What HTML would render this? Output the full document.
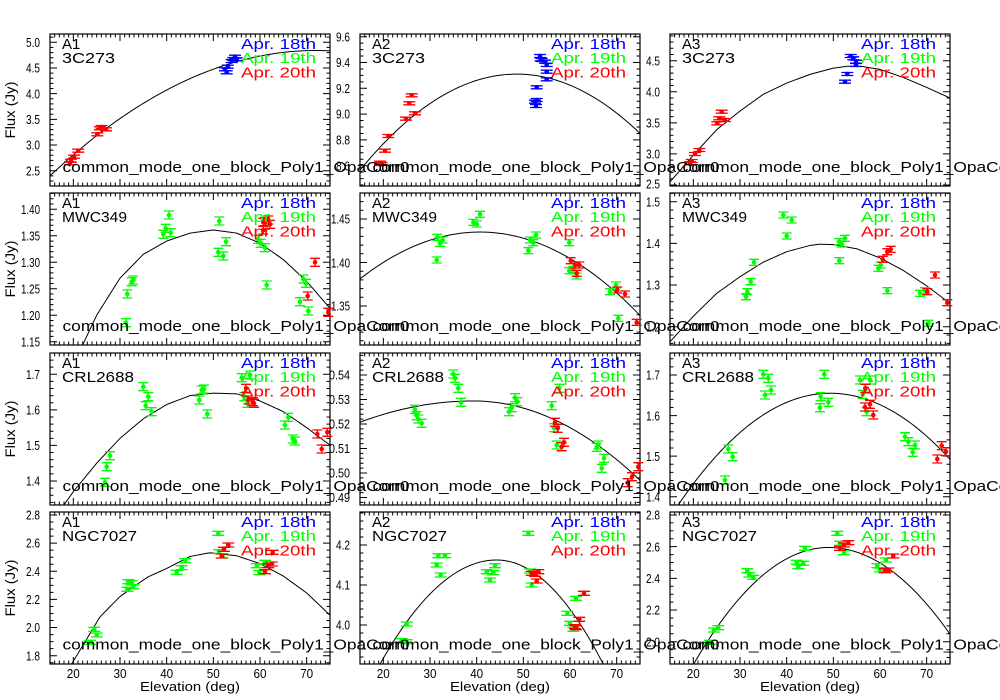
<!DOCTYPE html>
<html><head><meta charset="utf-8"><style>
html,body{margin:0;padding:0;background:#fff;width:1000px;height:700px;overflow:hidden;}
svg{display:block;}
text{font-family:"Liberation Sans",sans-serif;fill:#000;}
.t{font-size:13px;text-anchor:end;}
.xt{font-size:13px;text-anchor:middle;}
.n{font-size:15px;}
.lg{font-size:15px;}
.cm{font-size:15px;}
</style></head><body>
<svg id="s" width="1000" height="700" viewBox="0 0 1000 700" xmlns="http://www.w3.org/2000/svg">
<rect width="1000" height="700" fill="#fff"/>
<g id="shapes"></g>
<g id="txt">
<text class="n" x="62" y="49">A1</text><text class="n" x="62" y="63" textLength="53" lengthAdjust="spacingAndGlyphs">3C273</text>
<text class="n" x="372" y="49">A2</text><text class="n" x="372" y="63" textLength="53" lengthAdjust="spacingAndGlyphs">3C273</text>
<text class="n" x="682" y="49">A3</text><text class="n" x="682" y="63" textLength="53" lengthAdjust="spacingAndGlyphs">3C273</text>
<text class="n" x="62" y="208">A1</text><text class="n" x="62" y="222" textLength="65" lengthAdjust="spacingAndGlyphs">MWC349</text>
<text class="n" x="372" y="208">A2</text><text class="n" x="372" y="222" textLength="65" lengthAdjust="spacingAndGlyphs">MWC349</text>
<text class="n" x="682" y="208">A3</text><text class="n" x="682" y="222" textLength="65" lengthAdjust="spacingAndGlyphs">MWC349</text>
<text class="n" x="62" y="368">A1</text><text class="n" x="62" y="382" textLength="72" lengthAdjust="spacingAndGlyphs">CRL2688</text>
<text class="n" x="372" y="368">A2</text><text class="n" x="372" y="382" textLength="72" lengthAdjust="spacingAndGlyphs">CRL2688</text>
<text class="n" x="682" y="368">A3</text><text class="n" x="682" y="382" textLength="72" lengthAdjust="spacingAndGlyphs">CRL2688</text>
<text class="n" x="62" y="527">A1</text><text class="n" x="62" y="541" textLength="75" lengthAdjust="spacingAndGlyphs">NGC7027</text>
<text class="n" x="372" y="527">A2</text><text class="n" x="372" y="541" textLength="75" lengthAdjust="spacingAndGlyphs">NGC7027</text>
<text class="n" x="682" y="527">A3</text><text class="n" x="682" y="541" textLength="75" lengthAdjust="spacingAndGlyphs">NGC7027</text>

<g class="lg">
<text x="241" y="49" style="fill:#0000ff" textLength="75" lengthAdjust="spacingAndGlyphs">Apr. 18th</text>
<text x="241" y="63" style="fill:#00ff00" textLength="75" lengthAdjust="spacingAndGlyphs">Apr. 19th</text>
<text x="241" y="77.5" style="fill:#ff0000" textLength="75" lengthAdjust="spacingAndGlyphs">Apr. 20th</text>
<text x="551" y="49" style="fill:#0000ff" textLength="75" lengthAdjust="spacingAndGlyphs">Apr. 18th</text>
<text x="551" y="63" style="fill:#00ff00" textLength="75" lengthAdjust="spacingAndGlyphs">Apr. 19th</text>
<text x="551" y="77.5" style="fill:#ff0000" textLength="75" lengthAdjust="spacingAndGlyphs">Apr. 20th</text>
<text x="861" y="49" style="fill:#0000ff" textLength="75" lengthAdjust="spacingAndGlyphs">Apr. 18th</text>
<text x="861" y="63" style="fill:#00ff00" textLength="75" lengthAdjust="spacingAndGlyphs">Apr. 19th</text>
<text x="861" y="77.5" style="fill:#ff0000" textLength="75" lengthAdjust="spacingAndGlyphs">Apr. 20th</text>

<text x="241" y="208" style="fill:#0000ff" textLength="75" lengthAdjust="spacingAndGlyphs">Apr. 18th</text>
<text x="241" y="222" style="fill:#00ff00" textLength="75" lengthAdjust="spacingAndGlyphs">Apr. 19th</text>
<text x="241" y="236.5" style="fill:#ff0000" textLength="75" lengthAdjust="spacingAndGlyphs">Apr. 20th</text>
<text x="551" y="208" style="fill:#0000ff" textLength="75" lengthAdjust="spacingAndGlyphs">Apr. 18th</text>
<text x="551" y="222" style="fill:#00ff00" textLength="75" lengthAdjust="spacingAndGlyphs">Apr. 19th</text>
<text x="551" y="236.5" style="fill:#ff0000" textLength="75" lengthAdjust="spacingAndGlyphs">Apr. 20th</text>
<text x="861" y="208" style="fill:#0000ff" textLength="75" lengthAdjust="spacingAndGlyphs">Apr. 18th</text>
<text x="861" y="222" style="fill:#00ff00" textLength="75" lengthAdjust="spacingAndGlyphs">Apr. 19th</text>
<text x="861" y="236.5" style="fill:#ff0000" textLength="75" lengthAdjust="spacingAndGlyphs">Apr. 20th</text>

<text x="241" y="368" style="fill:#0000ff" textLength="75" lengthAdjust="spacingAndGlyphs">Apr. 18th</text>
<text x="241" y="382" style="fill:#00ff00" textLength="75" lengthAdjust="spacingAndGlyphs">Apr. 19th</text>
<text x="241" y="396.5" style="fill:#ff0000" textLength="75" lengthAdjust="spacingAndGlyphs">Apr. 20th</text>
<text x="551" y="368" style="fill:#0000ff" textLength="75" lengthAdjust="spacingAndGlyphs">Apr. 18th</text>
<text x="551" y="382" style="fill:#00ff00" textLength="75" lengthAdjust="spacingAndGlyphs">Apr. 19th</text>
<text x="551" y="396.5" style="fill:#ff0000" textLength="75" lengthAdjust="spacingAndGlyphs">Apr. 20th</text>
<text x="861" y="368" style="fill:#0000ff" textLength="75" lengthAdjust="spacingAndGlyphs">Apr. 18th</text>
<text x="861" y="382" style="fill:#00ff00" textLength="75" lengthAdjust="spacingAndGlyphs">Apr. 19th</text>
<text x="861" y="396.5" style="fill:#ff0000" textLength="75" lengthAdjust="spacingAndGlyphs">Apr. 20th</text>

<text x="241" y="527" style="fill:#0000ff" textLength="75" lengthAdjust="spacingAndGlyphs">Apr. 18th</text>
<text x="241" y="541" style="fill:#00ff00" textLength="75" lengthAdjust="spacingAndGlyphs">Apr. 19th</text>
<text x="241" y="555.5" style="fill:#ff0000" textLength="75" lengthAdjust="spacingAndGlyphs">Apr. 20th</text>
<text x="551" y="527" style="fill:#0000ff" textLength="75" lengthAdjust="spacingAndGlyphs">Apr. 18th</text>
<text x="551" y="541" style="fill:#00ff00" textLength="75" lengthAdjust="spacingAndGlyphs">Apr. 19th</text>
<text x="551" y="555.5" style="fill:#ff0000" textLength="75" lengthAdjust="spacingAndGlyphs">Apr. 20th</text>
<text x="861" y="527" style="fill:#0000ff" textLength="75" lengthAdjust="spacingAndGlyphs">Apr. 18th</text>
<text x="861" y="541" style="fill:#00ff00" textLength="75" lengthAdjust="spacingAndGlyphs">Apr. 19th</text>
<text x="861" y="555.5" style="fill:#ff0000" textLength="75" lengthAdjust="spacingAndGlyphs">Apr. 20th</text>
</g>

<g class="cm">
<text x="62.5" y="172" textLength="347" lengthAdjust="spacingAndGlyphs">common_mode_one_block_Poly1_OpaCorr0</text>
<text x="372.5" y="172" textLength="347" lengthAdjust="spacingAndGlyphs">common_mode_one_block_Poly1_OpaCorr0</text>
<text x="682.5" y="172" textLength="347" lengthAdjust="spacingAndGlyphs">common_mode_one_block_Poly1_OpaCorr0</text>
<text x="62.5" y="331" textLength="347" lengthAdjust="spacingAndGlyphs">common_mode_one_block_Poly1_OpaCorr0</text>
<text x="372.5" y="331" textLength="347" lengthAdjust="spacingAndGlyphs">common_mode_one_block_Poly1_OpaCorr0</text>
<text x="682.5" y="331" textLength="347" lengthAdjust="spacingAndGlyphs">common_mode_one_block_Poly1_OpaCorr0</text>
<text x="62.5" y="491" textLength="347" lengthAdjust="spacingAndGlyphs">common_mode_one_block_Poly1_OpaCorr0</text>
<text x="372.5" y="491" textLength="347" lengthAdjust="spacingAndGlyphs">common_mode_one_block_Poly1_OpaCorr0</text>
<text x="682.5" y="491" textLength="347" lengthAdjust="spacingAndGlyphs">common_mode_one_block_Poly1_OpaCorr0</text>
<text x="62.5" y="649.5" textLength="347" lengthAdjust="spacingAndGlyphs">common_mode_one_block_Poly1_OpaCorr0</text>
<text x="372.5" y="649.5" textLength="347" lengthAdjust="spacingAndGlyphs">common_mode_one_block_Poly1_OpaCorr0</text>
<text x="682.5" y="649.5" textLength="347" lengthAdjust="spacingAndGlyphs">common_mode_one_block_Poly1_OpaCorr0</text>
</g>

<g class="t">
<text x="40" y="47" textLength="14" lengthAdjust="spacingAndGlyphs">5.0</text>
<text x="40" y="72.7" textLength="14" lengthAdjust="spacingAndGlyphs">4.5</text>
<text x="40" y="98.4" textLength="14" lengthAdjust="spacingAndGlyphs">4.0</text>
<text x="40" y="124.1" textLength="14" lengthAdjust="spacingAndGlyphs">3.5</text>
<text x="40" y="149.7" textLength="14" lengthAdjust="spacingAndGlyphs">3.0</text>
<text x="40" y="175.4" textLength="14" lengthAdjust="spacingAndGlyphs">2.5</text>
<text x="350" y="41.4" textLength="14" lengthAdjust="spacingAndGlyphs">9.6</text>
<text x="350" y="67.2" textLength="14" lengthAdjust="spacingAndGlyphs">9.4</text>
<text x="350" y="93" textLength="14" lengthAdjust="spacingAndGlyphs">9.2</text>
<text x="350" y="118.7" textLength="14" lengthAdjust="spacingAndGlyphs">9.0</text>
<text x="350" y="144.7" textLength="14" lengthAdjust="spacingAndGlyphs">8.8</text>
<text x="350" y="170.4" textLength="14" lengthAdjust="spacingAndGlyphs">8.6</text>
<text x="660" y="65.4" textLength="14" lengthAdjust="spacingAndGlyphs">4.5</text>
<text x="660" y="96.5" textLength="14" lengthAdjust="spacingAndGlyphs">4.0</text>
<text x="660" y="127.6" textLength="14" lengthAdjust="spacingAndGlyphs">3.5</text>
<text x="660" y="158.7" textLength="14" lengthAdjust="spacingAndGlyphs">3.0</text>
<text x="660" y="188.5" textLength="14" lengthAdjust="spacingAndGlyphs">2.5</text>

<text x="40" y="214" textLength="19" lengthAdjust="spacingAndGlyphs">1.40</text>
<text x="40" y="240.5" textLength="19" lengthAdjust="spacingAndGlyphs">1.35</text>
<text x="40" y="267" textLength="19" lengthAdjust="spacingAndGlyphs">1.30</text>
<text x="40" y="293.5" textLength="19" lengthAdjust="spacingAndGlyphs">1.25</text>
<text x="40" y="320" textLength="19" lengthAdjust="spacingAndGlyphs">1.20</text>
<text x="40" y="346.4" textLength="19" lengthAdjust="spacingAndGlyphs">1.15</text>
<text x="350" y="223.7" textLength="19" lengthAdjust="spacingAndGlyphs">1.45</text>
<text x="350" y="267.4" textLength="19" lengthAdjust="spacingAndGlyphs">1.40</text>
<text x="350" y="310.7" textLength="19" lengthAdjust="spacingAndGlyphs">1.35</text>
<text x="660" y="206.4" textLength="14" lengthAdjust="spacingAndGlyphs">1.5</text>
<text x="660" y="248" textLength="14" lengthAdjust="spacingAndGlyphs">1.4</text>
<text x="660" y="289.7" textLength="14" lengthAdjust="spacingAndGlyphs">1.3</text>
<text x="660" y="331.4" textLength="14" lengthAdjust="spacingAndGlyphs">1.2</text>

<text x="40" y="379" textLength="14" lengthAdjust="spacingAndGlyphs">1.7</text>
<text x="40" y="414.6" textLength="14" lengthAdjust="spacingAndGlyphs">1.6</text>
<text x="40" y="450.2" textLength="14" lengthAdjust="spacingAndGlyphs">1.5</text>
<text x="40" y="485.7" textLength="14" lengthAdjust="spacingAndGlyphs">1.4</text>
<text x="350" y="379.7" textLength="21" lengthAdjust="spacingAndGlyphs">0.54</text>
<text x="350" y="404.2" textLength="21" lengthAdjust="spacingAndGlyphs">0.53</text>
<text x="350" y="428.7" textLength="21" lengthAdjust="spacingAndGlyphs">0.52</text>
<text x="350" y="453.2" textLength="21" lengthAdjust="spacingAndGlyphs">0.51</text>
<text x="350" y="477.7" textLength="21" lengthAdjust="spacingAndGlyphs">0.50</text>
<text x="350" y="502.2" textLength="21" lengthAdjust="spacingAndGlyphs">0.49</text>
<text x="660" y="379.7" textLength="14" lengthAdjust="spacingAndGlyphs">1.7</text>
<text x="660" y="420.3" textLength="14" lengthAdjust="spacingAndGlyphs">1.6</text>
<text x="660" y="460.9" textLength="14" lengthAdjust="spacingAndGlyphs">1.5</text>
<text x="660" y="501.4" textLength="14" lengthAdjust="spacingAndGlyphs">1.4</text>

<text x="40" y="519.7" textLength="14" lengthAdjust="spacingAndGlyphs">2.8</text>
<text x="40" y="547.7" textLength="14" lengthAdjust="spacingAndGlyphs">2.6</text>
<text x="40" y="575.9" textLength="14" lengthAdjust="spacingAndGlyphs">2.4</text>
<text x="40" y="604" textLength="14" lengthAdjust="spacingAndGlyphs">2.2</text>
<text x="40" y="632.2" textLength="14" lengthAdjust="spacingAndGlyphs">2.0</text>
<text x="40" y="660.4" textLength="14" lengthAdjust="spacingAndGlyphs">1.8</text>
<text x="350" y="549.7" textLength="14" lengthAdjust="spacingAndGlyphs">4.2</text>
<text x="350" y="589.7" textLength="14" lengthAdjust="spacingAndGlyphs">4.1</text>
<text x="350" y="629.7" textLength="14" lengthAdjust="spacingAndGlyphs">4.0</text>
<text x="660" y="519.7" textLength="14" lengthAdjust="spacingAndGlyphs">2.8</text>
<text x="660" y="551.4" textLength="14" lengthAdjust="spacingAndGlyphs">2.6</text>
<text x="660" y="583" textLength="14" lengthAdjust="spacingAndGlyphs">2.4</text>
<text x="660" y="614.7" textLength="14" lengthAdjust="spacingAndGlyphs">2.2</text>
<text x="660" y="646.4" textLength="14" lengthAdjust="spacingAndGlyphs">2.0</text>
</g>

<g class="xt">
<text x="73.3" y="678" textLength="13" lengthAdjust="spacingAndGlyphs">20</text>
<text x="120" y="678" textLength="13" lengthAdjust="spacingAndGlyphs">30</text>
<text x="166.7" y="678" textLength="13" lengthAdjust="spacingAndGlyphs">40</text>
<text x="213.3" y="678" textLength="13" lengthAdjust="spacingAndGlyphs">50</text>
<text x="260" y="678" textLength="13" lengthAdjust="spacingAndGlyphs">60</text>
<text x="306.7" y="678" textLength="13" lengthAdjust="spacingAndGlyphs">70</text>
<text x="383.3" y="678" textLength="13" lengthAdjust="spacingAndGlyphs">20</text>
<text x="430" y="678" textLength="13" lengthAdjust="spacingAndGlyphs">30</text>
<text x="476.7" y="678" textLength="13" lengthAdjust="spacingAndGlyphs">40</text>
<text x="523.3" y="678" textLength="13" lengthAdjust="spacingAndGlyphs">50</text>
<text x="570" y="678" textLength="13" lengthAdjust="spacingAndGlyphs">60</text>
<text x="616.7" y="678" textLength="13" lengthAdjust="spacingAndGlyphs">70</text>
<text x="693.3" y="678" textLength="13" lengthAdjust="spacingAndGlyphs">20</text>
<text x="740" y="678" textLength="13" lengthAdjust="spacingAndGlyphs">30</text>
<text x="786.7" y="678" textLength="13" lengthAdjust="spacingAndGlyphs">40</text>
<text x="833.3" y="678" textLength="13" lengthAdjust="spacingAndGlyphs">50</text>
<text x="880" y="678" textLength="13" lengthAdjust="spacingAndGlyphs">60</text>
<text x="926.7" y="678" textLength="13" lengthAdjust="spacingAndGlyphs">70</text>
<text x="190" y="691" textLength="100" lengthAdjust="spacingAndGlyphs">Elevation (deg)</text>
<text x="500" y="691" textLength="100" lengthAdjust="spacingAndGlyphs">Elevation (deg)</text>
<text x="810" y="691" textLength="100" lengthAdjust="spacingAndGlyphs">Elevation (deg)</text>
</g>
<g style="font-size:14px;text-anchor:middle">
<text transform="translate(15,110) rotate(-90)" textLength="57" lengthAdjust="spacingAndGlyphs">Flux (Jy)</text>
<text transform="translate(15,269) rotate(-90)" textLength="57" lengthAdjust="spacingAndGlyphs">Flux (Jy)</text>
<text transform="translate(15,429) rotate(-90)" textLength="57" lengthAdjust="spacingAndGlyphs">Flux (Jy)</text>
<text transform="translate(15,588) rotate(-90)" textLength="57" lengthAdjust="spacingAndGlyphs">Flux (Jy)</text>
</g>
</g>
</svg>
<script>
(function(){
var NS="http://www.w3.org/2000/svg";
var G=document.getElementById("shapes");
var L=[50,360,670],T=[34,193,353,512],W=280,H=152;
var COL={b:"#0000ff",g:"#00ff00",r:"#ff0000"};
function el(n,a){var e=document.createElementNS(NS,n);for(var k in a)e.setAttribute(k,a[k]);G.appendChild(e);return e;}
function q(p,v,al,ar){return function(e){var a=e<p?al:ar;return v-a*(e-p)*(e-p);};}
function pl(pts){return function(e){if(e<=pts[0][0])return pts[0][1]+(e-pts[0][0])*(pts[1][1]-pts[0][1])/(pts[1][0]-pts[0][0]);
 for(var i=1;i<pts.length;i++){if(e<=pts[i][0]){var a=pts[i-1],b=pts[i];return a[1]+(e-a[0])*(b[1]-a[1])/(b[0]-a[0]);}}
 var n=pts.length;return pts[n-1][1];};}
var P=[
{c:0,r:0,m:[5.0,42.3,2.5,170.7],maj:0.5,mn:0.1,f:q(72,4.84,.000751,.000751),e:1.5,cw:6,pts:[
[70,163.3,'r'],[71,160.7,'r'],[74,156.7,'r'],[78.3,150.7,'r'],[97.3,134.3,'r'],[100,128.3,'r'],[101.7,127,'r'],[106,129.3,'r'],
[226.7,72.3,'b'],[225,69.3,'b'],[227.7,66.7,'b'],[231.7,61,'b'],[235,56.7,'b'],[233.3,59,'b'],[236.7,59.3,'b']]},
{c:1,r:0,m:[9.6,36.7,8.6,165.7],maj:0.2,mn:0.05,f:q(48.6,9.31,.00066,.00066),e:1.5,cw:6,pts:[
[380,162.7,'r'],[381.7,164,'r'],[385,150.7,'r'],[388.3,136,'r'],[406,118.7,'r'],[409.3,103.3,'r'],[411.7,95.3,'r'],[415,113.3,'r'],
[536.7,87.3,'b'],[535,101.7,'b'],[536.7,100,'b'],[536,106,'b'],[540,56,'b'],[541.7,60,'b'],[545,61.7,'b'],[546.7,65,'b'],[546.7,71.7,'b'],[546.7,79.3,'b'],[540.7,59.3,'b']]},
{c:2,r:0,m:[4.5,60.7,2.5,185],maj:0.5,mn:0.1,f:pl([[15,2.55],[20,2.98],[25,3.39],[30,3.69],[35,3.96],[40,4.14],[45,4.28],[50,4.38],[53,4.41],[56,4.41],[60,4.36],[65,4.23],[70,4.07],[75,3.90]]),e:1.5,cw:6,pts:[
[690,163.3,'r'],[691.7,161,'r'],[695,154,'r'],[699.3,150,'r'],[717.3,123.3,'r'],[719.3,118.3,'r'],[721.7,111.7,'r'],[725,120,'r'],
[845,81.7,'b'],[847.3,74,'b'],[850.7,56,'b'],[853.3,58.3,'b'],[856,61.7,'b'],[856,65,'b']]},
{c:0,r:1,m:[1.40,209.3,1.15,341.7],maj:0.05,mn:0.01,f:pl([[22,1.144],[25,1.20],[30,1.27],[35,1.315],[40,1.34],[45,1.355],[50,1.361],[55,1.355],[60,1.336],[65,1.305],[70,1.264],[75,1.213]]),e:4,cw:5,pts:[
[126,322.7,'g'],[127.3,294,'g'],[131.7,281.7,'g'],[133.3,280,'g'],[163.3,234.3,'g'],[165.7,228.3,'g'],[169,215,'g'],[170.7,232.7,'g'],[218.3,252.3,'g'],[219.3,221,'g'],[223.3,256,'g'],[226,241.7,'g'],[258.3,239.3,'g'],[260.7,243.3,'g'],[265,247.7,'g'],[266.7,285,'g'],[300,301.7,'g'],[303.3,279,'g'],[306,283.3,'g'],[308.3,311,'g'],
[263.3,230,'r'],[265,221.7,'r'],[268.3,220,'r'],[270,224.3,'r'],[263.3,222.3,'r'],[315,262.3,'r'],[307.7,296,'r'],[328.3,312.3,'r']]},
{c:1,r:1,m:[1.45,219,1.35,306],maj:0.05,mn:0.01,f:q(40.7,1.435,.0000815,.0000815),e:3,cw:5,pts:[
[436.7,260,'g'],[437.3,237.3,'g'],[440,243.3,'g'],[442.7,240,'g'],[473.3,222.3,'g'],[476.7,224,'g'],[480,214.3,'g'],[528.3,250.7,'g'],[530,240,'g'],[533.3,242.7,'g'],[536,235,'g'],[569.3,242.7,'g'],[569.3,270.7,'g'],[573.3,269.3,'g'],[576.7,276,'g'],[610,291.7,'g'],[616,285,'g'],[618.3,318.3,'g'],
[570.7,260.7,'r'],[575,265,'r'],[576.7,273.3,'r'],[579.3,265,'r'],[617.3,290,'r'],[625,294,'r'],[636.7,322.3,'r']]},
{c:2,r:1,m:[1.5,201.7,1.2,326.7],maj:0.1,mn:0.02,f:pl([[15,1.164],[20,1.225],[25,1.28],[30,1.32],[35,1.355],[40,1.38],[45,1.395],[47,1.398],[50,1.397],[55,1.387],[60,1.365],[65,1.335],[70,1.298],[75,1.256]]),e:3,cw:5,pts:[
[746,296.7,'g'],[747.3,291.7,'g'],[750.7,281.7,'g'],[754,262.3,'g'],[783.3,215,'g'],[791.7,220,'g'],[786.7,236,'g'],[839.3,241.7,'g'],[841.7,244,'g'],[845,238.3,'g'],[839.3,260.7,'g'],[878.3,268.3,'g'],[880.7,265,'g'],[887.3,290.7,'g'],[920,293.3,'g'],[925,290.7,'g'],[928.3,323.3,'g'],
[882.7,259.3,'r'],[887.3,251.7,'r'],[890.7,249.3,'r'],[927.3,291.7,'r'],[935,275,'r'],[947.3,302.7,'r']]},
{c:0,r:2,m:[1.7,374.3,1.4,481],maj:0.1,mn:0.02,f:pl([[18,1.333],[20,1.37],[25,1.45],[30,1.52],[35,1.575],[40,1.615],[45,1.64],[50,1.647],[55,1.645],[60,1.625],[65,1.595],[70,1.55],[75,1.501]]),e:4,cw:5,pts:[
[105,482.3,'g'],[106.7,466.7,'g'],[110,455.7,'g'],[143.3,386.7,'g'],[145.7,405.7,'g'],[148.3,396.7,'g'],[151.7,411.7,'g'],[199.3,400,'g'],[201.7,390,'g'],[204,389,'g'],[207.3,414,'g'],[241.7,377.7,'g'],[244.3,396.7,'g'],[247.3,403.3,'g'],[250,375,'g'],[285,425,'g'],[288.3,417.3,'g'],[292.7,439,'g'],[295,441,'g'],
[246,388.3,'r'],[248.3,400,'r'],[252.7,401.7,'r'],[254,403.3,'r'],[317.3,434,'r'],[321.7,449,'r'],[327.3,432.3,'r']]},
{c:1,r:2,m:[0.54,375,0.49,497.5],maj:0.01,mn:0.002,f:q(39.3,0.5294,.0000147,.0000254),e:4,cw:5,pts:[
[415,409.3,'g'],[416.7,415.7,'g'],[418.3,419,'g'],[421.7,423.3,'g'],[453.3,374,'g'],[455,378.3,'g'],[458.3,388.3,'g'],[461,402.3,'g'],[509,411.7,'g'],[511.7,407.7,'g'],[515,397.7,'g'],[517.3,401.7,'g'],[551.7,405.7,'g'],[559.3,388.3,'g'],[554,427.7,'g'],[556.7,445,'g'],[596.7,447.3,'g'],[598.3,445,'g'],[604,458.3,'g'],[601.7,468.3,'g'],
[555,422.3,'r'],[557.7,428.3,'r'],[561.7,446.7,'r'],[564,442.3,'r'],[627.7,482.7,'r'],[632,476.7,'r'],[638.3,466.7,'r']]},
{c:2,r:2,m:[1.7,375,1.4,496.7],maj:0.1,mn:0.02,f:q(49.3,1.655,.00026,.000247),e:4,cw:5,pts:[
[725,480,'g'],[728.3,449,'g'],[732.7,456.7,'g'],[763.3,374.3,'g'],[768.3,378.3,'g'],[765,395,'g'],[771,390,'g'],[820,407.7,'g'],[820.7,396.7,'g'],[824.3,374.3,'g'],[828.3,402.3,'g'],[860,380,'g'],[862.7,394.3,'g'],[866.7,411.7,'g'],[870,380,'g'],[905,436.7,'g'],[908.3,441.7,'g'],[912.7,452.3,'g'],[915,445,'g'],
[865.3,388.3,'r'],[865,407,'r'],[870,404.3,'r'],[873.3,415,'r'],[937.3,459,'r'],[941.7,445.7,'r'],[946,451.7,'r']]},
{c:0,r:3,m:[2.8,515,1.8,655.7],maj:0.2,mn:0.05,f:pl([[19.6,1.74],[22,1.87],[25.7,2.076],[30,2.22],[32.9,2.29],[36,2.36],[40,2.42],[45,2.505],[49.3,2.532],[55,2.51],[60,2.455],[65,2.366],[70,2.246],[75,2.088]]),e:2,cw:6,pts:[
[90,642.3,'g'],[94.3,629.3,'g'],[96.7,635,'g'],[127.3,589.3,'g'],[128.3,581.7,'g'],[131.7,582.7,'g'],[133.3,586.7,'g'],[176.7,572.3,'g'],[181.7,567.7,'g'],[185,560.7,'g'],[218.3,533.3,'g'],[219,551.7,'g'],[222.7,556,'g'],[256.7,565.7,'g'],[259.3,572.7,'g'],[265,562.3,'g'],
[221.7,556,'r'],[224,549.3,'r'],[228.3,545,'r'],[265,571.7,'r'],[268.3,565.7,'r'],[271.7,564,'r'],[272.7,552.3,'r']]},
{c:1,r:3,m:[4.2,545,4.0,625],maj:0.1,mn:0.02,f:q(44.3,4.1625,.000416,.0005),e:2,cw:6,pts:[
[401.7,640.7,'g'],[406.7,641.7,'g'],[406.7,624,'g'],[436.7,565,'g'],[438.3,555.7,'g'],[445,555.7,'g'],[440.7,575,'g'],[486.7,571.7,'g'],[490,580,'g'],[493.3,572.7,'g'],[495,565.7,'g'],[528.3,533.3,'g'],[530,571,'g'],[531.7,585,'g'],[567.3,613.3,'g'],[570,623.3,'g'],[573.3,629.3,'g'],[576,598.3,'g'],
[531.7,573.3,'r'],[535,574.3,'r'],[538.3,571.7,'r'],[536.7,581,'r'],[576,627.7,'r'],[579.3,619.3,'r'],[584,593.3,'r'],[575,626.7,'r']]},
{c:2,r:3,m:[2.8,515,2.0,641.7],maj:0.2,mn:0.05,f:q(49,2.595,.00088,.00081),e:2,cw:6,pts:[
[710,642.3,'g'],[714,630,'g'],[718.3,627.7,'g'],[747.3,570.7,'g'],[749.3,575,'g'],[753.3,577.3,'g'],[796.7,562.3,'g'],[798.3,566.7,'g'],[803.3,563.3,'g'],[805,548.3,'g'],[837.3,533.3,'g'],[840,543.3,'g'],[844,552.7,'g'],[877.3,565.7,'g'],[880,570,'g'],[886,560,'g'],
[840,548.3,'r'],[844,545,'r'],[848.3,542.7,'r'],[885,570.7,'r'],[888.3,570,'r'],[893.3,556,'r']]}
];
P.forEach(function(p,i){
 var x0=L[p.c],y0=T[p.r];
 var v1=p.m[0],y1=p.m[1],v2=p.m[2],y2=p.m[3];
 var sc=(y2-y1)/(v2-v1);
 function Y(v){return y1+(v-v1)*sc;}
 function V(y){return v1+(y-y1)/sc;}
 function X(e){return x0+(e-15)*W/60;}
 var cp=document.createElementNS(NS,"clipPath");cp.setAttribute("id","c"+i);
 var r=document.createElementNS(NS,"rect");r.setAttribute("x",x0);r.setAttribute("y",y0);r.setAttribute("width",W);r.setAttribute("height",H);cp.appendChild(r);
 G.appendChild(cp);
 var d="";
 for(var e=15;e<=75.001;e+=0.5){d+=(d?"L":"M")+X(e).toFixed(2)+","+Y(p.f(e)).toFixed(2);}
 el("path",{d:d,fill:"none",stroke:"#000","stroke-width":"1","clip-path":"url(#c"+i+")"});
 var td="";
 for(var e2=16;e2<=74;e2++){var big=(e2%10==0);var len=big?7:3.5;var xx=X(e2);
  td+="M"+xx+","+(y0+H)+"V"+(y0+H-len)+"M"+xx+","+y0+"V"+(y0+len);}
 var vtop=V(y0),vbot=V(y0+H);
 var lo=Math.min(vtop,vbot),hi=Math.max(vtop,vbot);
 var k0=Math.ceil(lo/p.mn-1e-6),k1=Math.floor(hi/p.mn+1e-6);
 for(var k=k0;k<=k1;k++){var v=k*p.mn;var rr=v/p.maj;var big=Math.abs(rr-Math.round(rr))<1e-4;var len=big?7:3.5;var yy=Y(v);
  if(yy<y0||yy>y0+H)continue;
  td+="M"+x0+","+yy+"H"+(x0+len)+"M"+(x0+W)+","+yy+"H"+(x0+W-len);}
 el("path",{d:td,stroke:"#000","stroke-width":"1",fill:"none"});
 el("rect",{x:x0,y:y0,width:W,height:H,fill:"none",stroke:"#000","stroke-width":"1.2"});
 p.pts.forEach(function(q){
  var c=COL[q[2]],x=q[0],y=q[1],e=p.e,w=p.cw;
  el("path",{d:"M"+(x-w)+","+(y-e)+"H"+(x+w)+"M"+(x-w)+","+(y+e)+"H"+(x+w)+"M"+x+","+(y-e)+"V"+(y+e),stroke:c,"stroke-width":"1.3",fill:"none"});
  el("circle",{cx:x,cy:y,r:2.3,fill:c});
 });
});
})();
</script>
</body></html>
